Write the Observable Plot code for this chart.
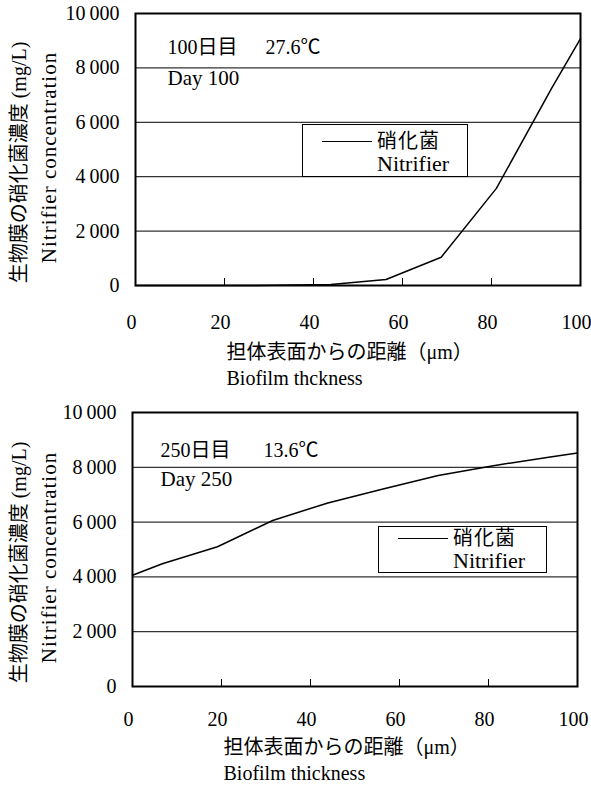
<!DOCTYPE html>
<html>
<head>
<meta charset="utf-8">
<script src="https://cdn.jsdelivr.net/npm/d3@7"></script>
<script src="https://cdn.jsdelivr.net/npm/@observablehq/plot@0.6"></script>
<style>
  body { margin: 0; background: white; }
  #fig { width: 591px; font-family: "Liberation Serif", "Noto Sans CJK JP", serif; color: black; }
  .panel { position: relative; width: 591px; height: 393px; }
  .panel svg { display: block; }
  .legend { position: absolute; border: 1.5px solid black; background: white; box-sizing: border-box; font-size: 20px; }
  .legend .sw { position: absolute; left: 19px; border-top: 1.5px solid black; }
  .legend .t { position: absolute; left: 74px; line-height: 20px; white-space: nowrap; }
  .legend .ja { letter-spacing: 1px; }
  .legend .en { font-size: 22px; line-height: 22px; }
</style>
</head>
<body>
<div id="fig"></div>
<script>
// ---- data ----
const thickness = [0, 6.7, 19.1, 31.5, 43.9, 56.3, 68.7, 81.1, 93.5, 100];
const nitrifierDay100 = [0, 0, 0, 5, 40, 220, 1040, 3570, 7250, 9080];
const nitrifierDay250 = [4060, 4480, 5100, 6060, 6700, 7210, 7700, 8060, 8370, 8520];
const yTicks = [0, 2000, 4000, 6000, 8000, 10000];
const yTickLabels = ["0", "2\u2009000", "4\u2009000", "6\u2009000", "8\u2009000", "10\u2009000"];
const xTicks = [0, 20, 40, 60, 80, 100];
const innerTicks = [20, 40, 60, 80];
const gridLines = [2000, 4000, 6000, 8000];
const yTitleJa = "生物膜の硝化菌濃度 (mg/L)";
const yTitleEn = "Nitrifier concentration";
const xTitleJa = "担体表面からの距離（μm）";
const xTitleEn = ["Biofilm thckness", "Biofilm thickness"];
const dayJa = ["100日目", "250日目"];
const tempLabels = ["27.6℃", "13.6℃"];
const dayEn = ["Day 100", "Day 250"];
const legendLabels = ["硝化菌", "Nitrifier"];

const font = "'Liberation Serif', 'Noto Sans CJK JP', serif";

const panels = [
  {values: nitrifierDay100, mL: 135, mR: 11, mT: 13, mB: 108, tickPad: 29,
   xt: 67, ann: {dx: 32, dy1: 34, dy2: 65, dxT: 130},
   legend: {left: 302, top: 124, w: 166, h: 53, ly: 16, t1: 6, t2: 28}},
  {values: nitrifierDay250, mL: 132, mR: 14, mT: 19, mB: 100, tickPad: 25,
   xt: 61, ann: {dx: 28, dy1: 38, dy2: 67, dxT: 131},
   legend: {left: 378, top: 133, w: 169, h: 47, ly: 11, t1: 1, t2: 23}}
];

const fig = document.getElementById("fig");

panels.forEach((p, i) => {
  const data = thickness.map((x, j) => ({x, y: p.values[j]}));
  const innerH = 393 - p.mT - p.mB;
  const svg = Plot.plot({
    width: 591, height: 393,
    marginLeft: p.mL, marginRight: p.mR, marginTop: p.mT, marginBottom: p.mB,
    style: {fontFamily: font, fontSize: "20px", color: "black", background: "white", overflow: "visible"},
    x: {domain: [0, 100]},
    y: {domain: [0, 10000]},
    marks: [
      Plot.ruleY(gridLines, {stroke: "#333", strokeWidth: 1.2}),
      Plot.tickX(innerTicks, {x: d => d, insetTop: innerH - 7, stroke: "black", strokeWidth: 1}),
      Plot.line(data, {x: "x", y: "y", stroke: "black", strokeWidth: 1.5}),
      Plot.frame({stroke: "black", strokeWidth: 2}),
      Plot.axisX({ticks: xTicks, tickSize: 0, tickPadding: p.tickPad, dx: -4, label: null, fontSize: 20}),
      Plot.axisY({ticks: yTicks, tickSize: 0, tickPadding: 16, label: null, fontSize: 20,
                  tickFormat: d => yTickLabels[yTicks.indexOf(d)]}),
      Plot.text([xTitleJa], {text: d => d, frameAnchor: "bottom-left", dx: 91, dy: p.xt, textAnchor: "start", lineAnchor: "middle", fontSize: 20}),
      Plot.text([xTitleEn[i]], {text: d => d, frameAnchor: "bottom-left", dx: 91, dy: p.xt + 26, textAnchor: "start", lineAnchor: "middle", fontSize: 20}),
      Plot.text([yTitleJa], {text: d => d, frameAnchor: "left", rotate: -90, dx: 19 - p.mL, dy: 13, textAnchor: "middle", lineAnchor: "middle", fontSize: 20}),
      Plot.text([yTitleEn], {text: d => d, frameAnchor: "left", rotate: -90, dx: 49 - p.mL, dy: 8, textAnchor: "middle", lineAnchor: "middle", fontSize: 21}),
      Plot.text([dayJa[i]], {text: d => d, frameAnchor: "top-left", dx: p.ann.dx, dy: p.ann.dy1, textAnchor: "start", lineAnchor: "middle", fontSize: 20}),
      Plot.text([tempLabels[i]], {text: d => d, frameAnchor: "top-left", dx: p.ann.dxT, dy: p.ann.dy1, textAnchor: "start", lineAnchor: "middle", fontSize: 20}),
      Plot.text([dayEn[i]], {text: d => d, frameAnchor: "top-left", dx: p.ann.dx, dy: p.ann.dy2, textAnchor: "start", lineAnchor: "middle", fontSize: 21})
    ]
  });
  d3.select(svg).selectAll("text").filter(function() { return this.textContent === yTitleEn; })
    .attr("letter-spacing", "1px");
  const wrap = document.createElement("div");
  wrap.className = "panel";
  wrap.appendChild(svg);
  const L = p.legend;
  const lg = document.createElement("div");
  lg.className = "legend";
  lg.style.left = L.left + "px"; lg.style.top = L.top + "px";
  lg.style.width = L.w + "px"; lg.style.height = L.h + "px";
  const sw = document.createElement("div");
  sw.className = "sw"; sw.style.top = L.ly + "px"; sw.style.width = "50px";
  lg.appendChild(sw);
  const t1 = document.createElement("div");
  t1.className = "t ja"; t1.style.top = L.t1 + "px"; t1.textContent = legendLabels[0];
  const t2 = document.createElement("div");
  t2.className = "t en"; t2.style.top = L.t2 + "px"; t2.textContent = legendLabels[1];
  lg.appendChild(t1); lg.appendChild(t2);
  wrap.appendChild(lg);
  fig.appendChild(wrap);
});
</script>
</body>
</html>
